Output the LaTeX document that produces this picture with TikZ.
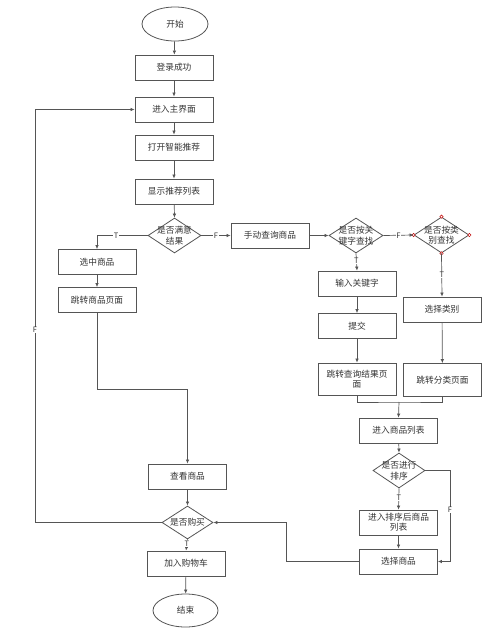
\documentclass[tikz,border=0pt]{standalone}
\usepackage{fontspec}
\setmainfont{Noto Sans CJK SC}
\usetikzlibrary{arrows.meta,shapes.geometric}
\definecolor{ln}{HTML}{555555}
\definecolor{tx}{HTML}{333333}
\begin{document}
\begin{tikzpicture}[x=1pt,y=-1pt,
  every node/.style={font=\fontsize{8.7}{10}\selectfont,text=tx},
  box/.style={draw=ln,line width=0.8pt,fill=white,minimum width=78pt,minimum height=25pt,inner sep=1pt,align=center},
  oval/.style={draw=ln,line width=0.8pt,fill=white,ellipse,minimum width=66pt,minimum height=34pt,inner sep=0pt},
  dia/.style={draw=ln,line width=0.8pt,fill=white,diamond,inner sep=0pt},
  dtext/.style={align=center,inner sep=0pt,font=\fontsize{8.7}{10.5}\selectfont},
  conn/.style={draw=ln,line width=0.7pt},
  arr/.style={conn,-{Latex[length=4pt,width=3.6pt]}},
  lab/.style={fill=white,inner sep=0.6pt,font=\fontsize{7.5}{8}\selectfont},
  handle/.style={draw=red!75!black,fill=white,circle,inner sep=0pt,minimum size=3.4pt,line width=0.5pt}
]
\useasboundingbox (0,0) rectangle (497,635);
% nodes
\node[oval] (start) at (175,24) {开始};
\node[box] (login) at (174,67.5) {登录成功};
\node[box] (main) at (174,109.5) {进入主界面};
\node[box] (open) at (174,147.5) {打开智能推荐};
\node[box] (show) at (174,191.5) {显示推荐列表};
\node[dia,minimum width=53pt,minimum height=35pt] (d1) at (174.5,235.5) {};
\node[dtext] (d1t) at (d1) {是否满意\\结果};
\node[box] (sel) at (97,262) {选中商品};
\node[box] (jump1) at (97,300) {跳转商品页面};
\node[box] (manual) at (270,235.5) {手动查询商品};
\node[dia,minimum width=54pt,minimum height=35pt] (d2) at (356,235.5) {};
\node[dtext] (d2t) at (d2) {是否按关\\键字查找};
\node[dia,minimum width=55pt,minimum height=36pt] (d3) at (441.5,235) {};
\node[dtext] (d3t) at (d3) {是否按类\\别查找};
\node[box] (kw) at (357,283.5) {输入关键字};
\node[box] (submit) at (357,326) {提交};
\node[box,minimum height=32pt] (res) at (357,379) {跳转查询结果页\\面};
\node[box] (cat) at (442,309.5) {选择类别};
\node[box,minimum height=33pt] (catpage) at (442.5,380) {跳转分类页面};
\node[box] (list) at (398.5,430.5) {进入商品列表};
\node[dia,minimum width=52pt,minimum height=35pt] (d5) at (399,470.5) {};
\node[dtext] (d5t) at (d5) {是否进行\\排序};
\node[box] (sorted) at (398.5,522.5) {进入排序后商品\\列表};
\node[box] (choose) at (398.5,561.5) {选择商品};
\node[box] (view) at (187.5,476.5) {查看商品};
\node[dia,minimum width=51pt,minimum height=33pt] (d4) at (187.5,522.5) {};
\node[dtext] (d4t) at (d4) {是否购买};
\node[box] (cart) at (186,563.5) {加入购物车};
\node[oval,minimum width=65pt,minimum height=33pt] (end) at (185.5,610.5) {结束};
% handles on d3
\node[handle] (h1) at (d3.north) {};
\node[handle] (h2) at (d3.south) {};
\node[handle] (h3) at (d3.east) {};
\node[handle] (h4) at (d3.west) {};
% connectors
\draw[arr] (start) -- (login);
\draw[arr] (login) -- (main);
\draw[arr] (main) -- (open);
\draw[arr] (open) -- (show);
\draw[arr] (show) -- (d1.north);
\draw[arr] (d1.west) -| (sel.north) node[lab,pos=0.31] {T};
\draw[arr] (d1.east) -- (manual.west) node[lab,midway] {F};
\draw[arr] (sel) -- (jump1);
\coordinate (b1) at (97,389);
\draw[arr] (jump1.south) -- (b1) -| (view.north);
\draw[arr] (view) -- (d4.north);
\coordinate (b2) at (35,522.5);
\draw[arr] (d4.west) -- (b2) |- (main.west) node[lab,pos=0.233] {F};
\draw[arr] (d4.south) -- (cart.north) node[lab,pos=0.35] {T};
\draw[arr] (cart) -- (end);
\draw[arr] (manual.east) -- (d2.west);
\draw[arr] (d2.east) -- (d3.west) node[lab,midway] {F};
\draw[arr] (d2.south) -- (kw.north) node[lab,pos=0.45] {T};
\draw[arr] (kw) -- (submit);
\draw[arr] (submit) -- (res);
\draw[arr] (d3.south) -- (cat.north) node[lab,pos=0.5] {T};
\draw[arr] (cat) -- (catpage);
\coordinate (m) at (399,402);
\draw[conn] (res.south) |- (m) -| (catpage.south);
\draw[arr] (m) -- (list.north);
\draw[arr] (list) -- (d5.north);
\draw[arr] (d5.south) -- (sorted.north) node[lab,pos=0.45] {T};
\draw[arr] (sorted) -- (choose);
\coordinate (b3) at (450,470.5);
\draw[arr] (d5.east) -- (b3) |- (choose.east) node[lab,pos=0.217] {F};
\coordinate (b4) at (286,561.5);
\draw[arr] (choose.west) -- (b4) |- (d4.east);
\end{tikzpicture}
\end{document}
